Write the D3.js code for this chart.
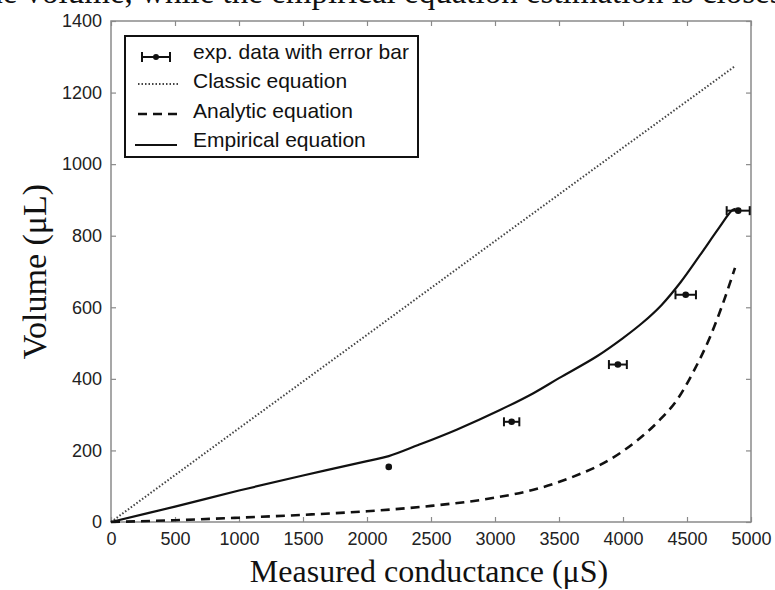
<!DOCTYPE html>
<html><head><meta charset="utf-8">
<script src="https://cdn.jsdelivr.net/npm/d3@7"></script>
<style>body{margin:0;background:#fff}svg{display:block}</style>
</head><body>
<script>
// ---- data ----
const xTicks = [0,500,1000,1500,2000,2500,3000,3500,4000,4500,5000];
const yTicks = [0,200,400,600,800,1000,1200,1400];
const expX = [2170,3130,3960,4490,4900];
const expY = [154,280,440,635,870];
const expErr = [0,60,70,80,90];
const classicX = [0,1000,2000,3000,4000,4880];
const classicY = [0,262,523,785,1046,1275];
const analyticX = [0,500,1000,1500,2000,2500,3000,3300,3600,3900,4100,4300,4422,4550,4680,4780,4875];
const analyticY = [0,5,12,20,30,45,68,90,125,175,225,290,341,420,517,610,710];
const empiricalX = [0,500,1000,1500,2000,2170,2400,2700,3039,3300,3500,3800,4000,4150,4300,4450,4600,4750,4850,4880];
const empiricalY = [0,43,88,130,170,184,215,258,313,360,402,464,514,556,606,670,745,822,870,875];
const legendLabels = ["exp. data with error bar","Classic equation","Analytic equation","Empirical equation"];
const xTitle = "Measured conductance (\u03bcS)";
const yTitle = "Volume (\u03bcL)";
const topText = "the volume, while the empirical equation estimation is closest";

const W=775,H=590;
const svg=d3.select("body").append("svg").attr("width",W).attr("height",H);
const L=111,R=751,T=21,B=522;
const x=d3.scaleLinear().domain([0,5000]).range([L,R]);
const y=d3.scaleLinear().domain([0,1400]).range([B,T]);

// clipped text at top (cut by the page edge as in the source image)
svg.append("text").attr("x",-23).attr("y",3).attr("font-family","Liberation Serif, Times New Roman, serif")
  .attr("font-size",33).attr("fill","#111").text(topText);

// frame
svg.append("rect").attr("x",L).attr("y",T).attr("width",R-L).attr("height",B-T)
  .attr("fill","none").attr("stroke","#8a8a8a").attr("stroke-width",1.5);

const tickFont="Liberation Sans, Arial, sans-serif";
const gx=svg.append("g").attr("transform",`translate(0,${B})`)
  .call(d3.axisBottom(x).tickValues(xTicks).tickSize(-5).tickPadding(10).tickFormat(d3.format("d")));
const gxt=svg.append("g").attr("transform",`translate(0,${T})`)
  .call(d3.axisTop(x).tickValues(xTicks).tickSize(-5).tickFormat(""));
const gy=svg.append("g").attr("transform",`translate(${L},0)`)
  .call(d3.axisLeft(y).tickValues(yTicks).tickSize(-5).tickPadding(9).tickFormat(d3.format("d")));
const gyr=svg.append("g").attr("transform",`translate(${R},0)`)
  .call(d3.axisRight(y).tickValues(yTicks).tickSize(-5).tickFormat(""));
[gx,gxt,gy,gyr].forEach(g=>{
  g.select(".domain").remove();
  g.selectAll(".tick line").attr("stroke","#8a8a8a").attr("stroke-width",1.2);
  g.selectAll("text").attr("font-family",tickFont).attr("font-size",18).attr("fill","#222");
});
gx.selectAll("text").attr("dy","0.71em");

// axis titles
svg.append("text").attr("x",(L+R)/2-2).attr("y",582).attr("text-anchor","middle")
  .attr("font-family","Liberation Serif, Times New Roman, serif").attr("font-size",32).attr("fill","#111").text(xTitle);
svg.append("text").attr("transform",`translate(46,${(T+B)/2}) rotate(-90)`).attr("text-anchor","middle")
  .attr("font-family","Liberation Serif, Times New Roman, serif").attr("font-size",34).attr("fill","#111").text(yTitle);

const zip=(a,b)=>a.map((v,i)=>[v,b[i]]);
const lineL=d3.line().x(d=>x(d[0])).y(d=>y(d[1]));
const lineC=d3.line().x(d=>x(d[0])).y(d=>y(d[1])).curve(d3.curveMonotoneX);
const lineS=d3.line().x(d=>x(d[0])).y(d=>y(d[1])).curve(d3.curveCatmullRom.alpha(0.5));
svg.append("path").attr("d",lineL(zip(classicX,classicY))).attr("fill","none").attr("stroke","#444")
  .attr("stroke-width",2).attr("stroke-dasharray","1.5,2");
svg.append("path").attr("d",lineC(zip(analyticX,analyticY))).attr("fill","none").attr("stroke","#111")
  .attr("stroke-width",2.6).attr("stroke-dasharray","9,6");
svg.append("path").attr("d",lineS(zip(empiricalX,empiricalY))).attr("fill","none").attr("stroke","#111")
  .attr("stroke-width",2.2);

// exp points
const pts=svg.append("g");
expX.forEach((v,i)=>{
  const cy=y(expY[i]);
  if(expErr[i]>0){
    const x0=x(v-expErr[i]), x1=x(v+expErr[i]);
    pts.append("line").attr("x1",x0).attr("x2",x1).attr("y1",cy).attr("y2",cy).attr("stroke","#111").attr("stroke-width",2);
    [x0,x1].forEach(xx=>pts.append("line").attr("x1",xx).attr("x2",xx).attr("y1",cy-4.5).attr("y2",cy+4.5).attr("stroke","#111").attr("stroke-width",2));
  }
  pts.append("circle").attr("cx",x(v)).attr("cy",cy).attr("r",3.3).attr("fill","#111");
});

// legend
const lg=svg.append("g");
lg.append("rect").attr("x",125).attr("y",36).attr("width",293).attr("height",121)
  .attr("fill","#fff").attr("stroke","#111").attr("stroke-width",2);
const rowY=[52,81,111,140];
legendLabels.forEach((t,i)=>{
  lg.append("text").attr("x",193).attr("y",rowY[i]).attr("dy","0.35em").attr("font-family",tickFont)
    .attr("font-size",21).attr("fill","#111").text(t);
});
let ry=rowY[0]+5;
lg.append("line").attr("x1",142).attr("x2",170).attr("y1",ry).attr("y2",ry).attr("stroke","#111").attr("stroke-width",2);
[142,170].forEach(xx=>lg.append("line").attr("x1",xx).attr("x2",xx).attr("y1",ry-5).attr("y2",ry+5).attr("stroke","#111").attr("stroke-width",2));
lg.append("circle").attr("cx",156).attr("cy",ry).attr("r",3).attr("fill","#111");
lg.append("line").attr("x1",138).attr("x2",178).attr("y1",rowY[1]+3).attr("y2",rowY[1]+3).attr("stroke","#444").attr("stroke-width",2).attr("stroke-dasharray","1.5,2");
lg.append("line").attr("x1",138).attr("x2",178).attr("y1",rowY[2]+3).attr("y2",rowY[2]+3).attr("stroke","#111").attr("stroke-width",2.6).attr("stroke-dasharray","9,6");
lg.append("line").attr("x1",135).attr("x2",177).attr("y1",rowY[3]+5).attr("y2",rowY[3]+5).attr("stroke","#111").attr("stroke-width",2);
</script>
</body></html>
